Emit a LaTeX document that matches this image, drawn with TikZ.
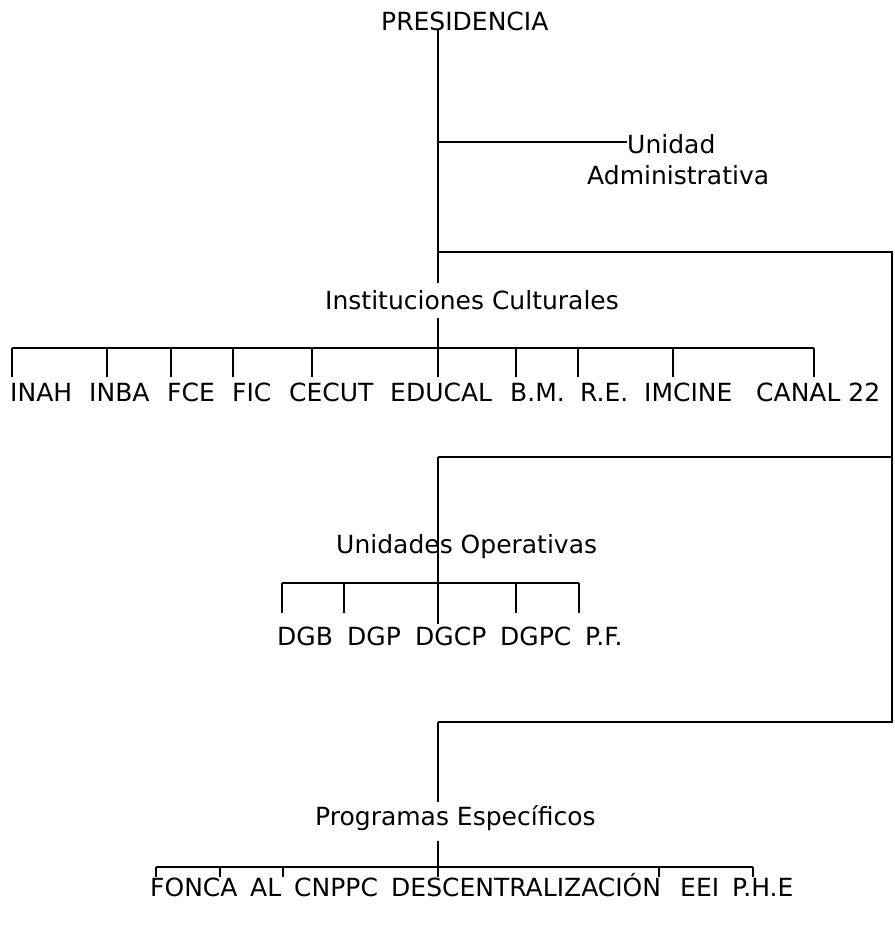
\documentclass[tikz,border=0pt]{standalone}
\usepackage{fontspec}
\setmainfont{DejaVu Sans}
\begin{document}
\begin{tikzpicture}[x=1pt,y=-1pt,
  lab/.style={inner sep=0pt, anchor=base west, font=\fontsize{25}{29}\selectfont},
  ln/.style={line width=1.2pt}]
\useasboundingbox (0,0) rectangle (895,930);
% trunk x and row levels
\coordinate (tr) at (438,0);
\coordinate (r1b) at (0,377);
\coordinate (r2b) at (0,613);
\coordinate (r3b) at (0,877);
% headings
\node[lab] (pres) at (381,30) {PRESIDENCIA};
\node[lab] (ua1) at (627,153) {Unidad};
\node[lab] (ua2) at (587,184) {Administrativa};
\node[lab] (inst) at (325,309) {Instituciones Culturales};
\node[lab] (uop) at (336,553) {Unidades Operativas};
\node[lab] (prog) at (315,825) {Programas Específicos};
% row 1
\node[lab] (inah) at (10,401) {INAH};
\node[lab] (inba) at (89,401) {INBA};
\node[lab] (fce) at (167,401) {FCE};
\node[lab] (fic) at (232,401) {FIC};
\node[lab] (cecut) at (289,401) {CECUT};
\node[lab] (educal) at (390,401) {EDUCAL};
\node[lab] (bm) at (510,401) {B.M.};
\node[lab] (re) at (580,401) {R.E.};
\node[lab] (imcine) at (644,401) {IMCINE};
\node[lab] (canal) at (756,401) {CANAL 22};
% row 2
\node[lab] (dgb) at (277,645) {DGB};
\node[lab] (dgp) at (347,645) {DGP};
\node[lab] (dgcp) at (415,645) {DGCP};
\node[lab] (dgpc) at (500,645) {DGPC};
\node[lab] (pf) at (585,645) {P.F.};
% row 3
\node[lab] (fonca) at (150,896) {FONCA};
\node[lab] (al) at (250,896) {AL};
\node[lab] (cnppc) at (294,896) {CNPPC};
\node[lab] (desc) at (391,896) {DESCENTRALIZACIÓN};
\node[lab] (eei) at (680,896) {EEI};
\node[lab] (phe) at (732,896) {P.H.E};
% junctions
\coordinate (jua) at (438,142);
\coordinate (jbus) at (438,252);
\coordinate (bus1) at (892,252);
\coordinate (bus2) at (892,457);
\coordinate (bus3) at (892,722);
\coordinate (j2) at (438,457);
\coordinate (j3) at (438,722);
% bar tick points
\coordinate (a1) at (12,348);
\coordinate (a2) at (107,348);
\coordinate (a3) at (171,348);
\coordinate (a4) at (233,348);
\coordinate (a5) at (312,348);
\coordinate (a6) at (438,348);
\coordinate (a7) at (516,348);
\coordinate (a8) at (578,348);
\coordinate (a9) at (673,348);
\coordinate (a10) at (814,348);
\coordinate (b1) at (282,583);
\coordinate (b2) at (344,583);
\coordinate (b3) at (438,583);
\coordinate (b4) at (516,583);
\coordinate (b5) at (579,583);
\coordinate (c1) at (156,867);
\coordinate (c2) at (220,867);
\coordinate (c3) at (283,867);
\coordinate (c4) at (438,867);
\coordinate (c5) at (659,867);
\coordinate (c6) at (753,867);
% trunk and Unidad Administrativa
\draw[ln, shorten >=7pt] (pres.base -| tr) -- (tr |- inst.north);
\draw[ln] (jua) -- (jua -| ua1.west);
% right bus
\draw[ln] (jbus) -- (bus1) -- (bus3) -- (j3);
\draw[ln] (bus2) -- (j2);
% section 1
\draw[ln, shorten <=8pt] (tr |- inst.south) -- (tr |- r1b);
\draw[ln] (a1) -- (a10);
\foreach \p in {a1,a2,a3,a4,a5,a7,a8,a9,a10} \draw[ln] (\p) -- (\p |- r1b);
% section 2
\draw[ln, shorten >=2pt] (j2) -- (tr |- dgcp.north);
\draw[ln] (b1) -- (b5);
\foreach \p in {b1,b2,b4,b5} \draw[ln] (\p) -- (\p |- r2b);
% section 3
\draw[ln, shorten >=3pt] (j3) -- (tr |- prog.north);
\draw[ln, shorten <=11pt] (tr |- prog.south) -- (tr |- r3b);
\draw[ln] (c1) -- (c6);
\foreach \p in {c1,c2,c3,c5,c6} \draw[ln] (\p) -- (\p |- r3b);
\end{tikzpicture}
\end{document}
